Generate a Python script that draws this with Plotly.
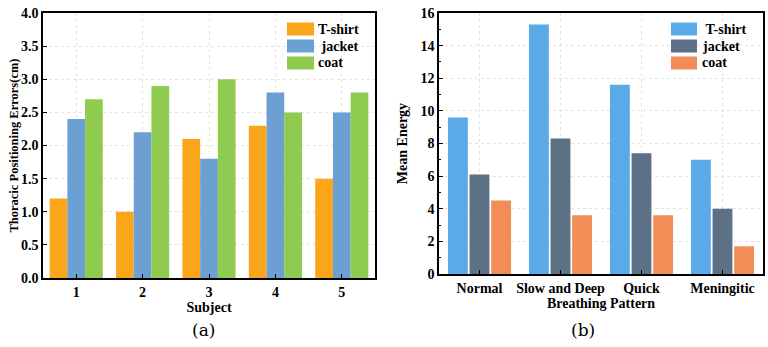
import plotly.graph_objects as go

subjects = ["1", "2", "3", "4", "5"]
a_tshirt = [1.2, 1.0, 2.1, 2.3, 1.5]
a_jacket = [2.4, 2.2, 1.8, 2.8, 2.5]
a_coat = [2.7, 2.9, 3.0, 2.5, 2.8]

patterns = ["Normal", "Slow and Deep", "Quick", "Meningitic"]
b_tshirt = [9.6, 15.3, 11.6, 7.0]
b_jacket = [6.1, 8.3, 7.4, 4.0]
b_coat = [4.5, 3.6, 3.6, 1.7]

series_names = ["T-shirt", "jacket", "coat"]
a_colors = ["#FBA61A", "#6DA0D2", "#8FCB4E"]
b_colors = ["#5AAAE8", "#5D7186", "#F28D58"]

FONT = "Liberation Serif, Times New Roman, serif"

W, H = 768, 347


def px(x):
    return x / W


def py(y):
    return 1 - y / H


fig = go.Figure()
for name, vals, col in zip(series_names, [a_tshirt, a_jacket, a_coat], a_colors):
    fig.add_trace(go.Bar(x=subjects, y=vals, name=name, marker_color=col,
                         marker_line_width=0, xaxis="x", yaxis="y", showlegend=False))
for name, vals, col in zip(series_names, [b_tshirt, b_jacket, b_coat], b_colors):
    fig.add_trace(go.Bar(x=patterns, y=vals, name=name, marker_color=col,
                         marker_line_width=0, xaxis="x2", yaxis="y2", showlegend=False,
                         width=0.245))

tickf = dict(family=FONT, size=14, color="black", weight="bold")
titf = dict(family=FONT, size=14, color="black", weight="bold")
grid = dict(showgrid=True, gridcolor="#e3e3e3", griddash="dot", gridwidth=1)
axline = dict(showline=True, linecolor="black", linewidth=1.5, mirror=True,
              zeroline=False, automargin=False, ticklabeloverflow="allow")
legf = dict(family=FONT, size=14, color="black", weight="bold")

# custom legends with large swatches (styling only)
shapes = []
annotations = []
row_y = [29, 46, 63]
legend_specs = [
    (287, 314, 316, a_colors, ["T-shirt", "\u00a0jacket", "coat"]),
    (671, 697, 700, b_colors, ["\u00a0T-shirt", "jacket", "coat"]),
]
for sw_x0, sw_x1, txt_x, colors, labels in legend_specs:
    for yy, col, lab in zip(row_y, colors, labels):
        shapes.append(dict(type="rect", xref="paper", yref="paper",
                           x0=px(sw_x0), x1=px(sw_x1), y0=py(yy + 6.5), y1=py(yy - 6.5),
                           fillcolor=col, line=dict(width=0)))
        annotations.append(dict(text=lab, x=px(txt_x), y=py(yy), xref="paper", yref="paper",
                                xanchor="left", yanchor="middle", showarrow=False, font=legf))

annotations += [
    dict(text="(a)", x=px(190), y=py(330), xref="paper", yref="paper", showarrow=False,
         yanchor="middle", font=dict(family="DejaVu Serif", size=17, color="black")),
    dict(text="(b)", x=px(597), y=py(330), xref="paper", yref="paper", showarrow=False,
         yanchor="middle", font=dict(family="DejaVu Serif", size=17, color="black")),
]

fig.update_layout(
    width=W, height=H,
    margin=dict(l=0, r=0, t=0, b=0, autoexpand=False),
    paper_bgcolor="white", plot_bgcolor="white",
    barmode="group", bargap=0.2, bargroupgap=0,
    showlegend=False,
    xaxis=dict(domain=[px(43), px(375)], anchor="y", type="category",
               tickfont=tickf, ticks="inside", ticklen=4, tickcolor="black",
               title=dict(text="Subject", font=titf, standoff=0), **grid, **axline),
    yaxis=dict(domain=[py(278), py(13)], anchor="x", range=[0, 4.0], dtick=0.5,
               tickformat=".1f", tickfont=tickf, ticks="inside", ticklen=4, tickcolor="black",
               title=dict(text="Thoracic Positioning Errors(cm)",
                          font=dict(family=FONT, size=12.5, color="black", weight="bold"), standoff=0),
               **grid, **axline),
    xaxis2=dict(domain=[px(439), px(763)], anchor="y2", type="category",
                tickfont=tickf, ticks="inside", ticklen=4, tickcolor="black",
                title=dict(text="Breathing Pattern", font=titf, standoff=0), **grid, **axline),
    yaxis2=dict(domain=[py(274), py(13)], anchor="x2", range=[0, 16], dtick=2,
                tickfont=tickf, ticks="inside", ticklen=4, tickcolor="black",
                minor=dict(ticks="inside", ticklen=2, dtick=1, tickcolor="black"),
                title=dict(text="Mean Energy", font=titf, standoff=10), **grid, **axline),
    shapes=shapes,
    annotations=annotations,
)
fig.write_html("out.html", config={"displayModeBar": False},
               post_script="document.body.style.margin='0';document.body.style.padding='0';")
